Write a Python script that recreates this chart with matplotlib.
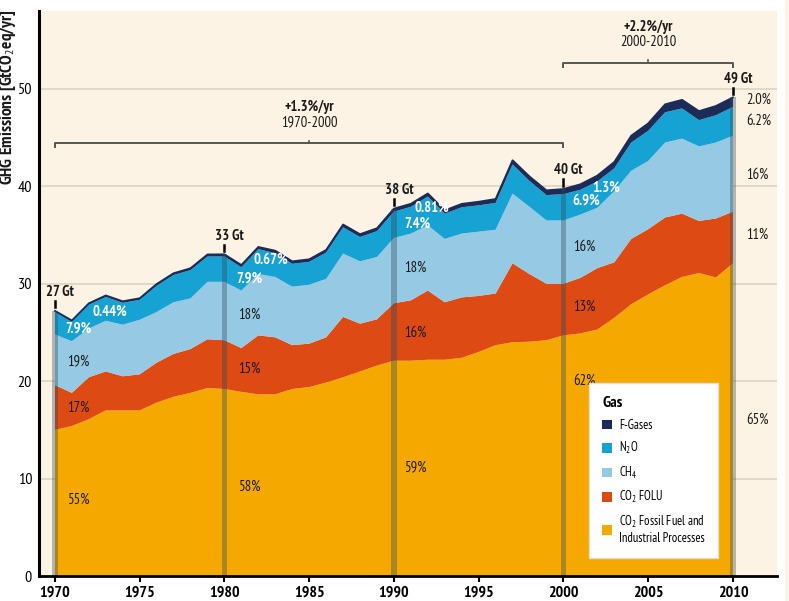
import matplotlib
matplotlib.use("Agg")
import matplotlib.pyplot as plt
from matplotlib import font_manager
from matplotlib.patches import Patch, Rectangle
import numpy as np

# ---------------- data ----------------
years = list(range(1970, 2011))
co2_ff = [15.0, 15.4, 16.1, 17.0, 17.0, 17.0, 17.8, 18.4, 18.8, 19.3,
          19.2, 18.9, 18.65, 18.65, 19.2, 19.4, 19.85, 20.4, 21.0, 21.6,
          22.1, 22.1, 22.2, 22.2, 22.4, 23.0, 23.7, 24.0, 24.05, 24.2,
          24.7, 24.9, 25.3, 26.5, 27.9, 28.9, 29.85, 30.7, 31.1, 30.65,
          32.1]
co2_folu = [4.6, 3.4, 4.3, 4.0, 3.5, 3.7, 4.1, 4.4, 4.5, 5.0,
            5.0, 4.5, 6.05, 5.85, 4.5, 4.45, 4.65, 6.2, 4.9, 4.75,
            5.9, 6.2, 7.1, 5.9, 6.2, 5.75, 5.3, 8.1, 6.95, 5.8,
            5.3, 5.7, 6.3, 5.7, 6.7, 6.7, 6.95, 6.5, 5.35, 6.05,
            5.3]
ch4 = [5.2, 5.3, 5.0, 5.2, 5.3, 5.6, 5.2, 5.3, 5.2, 5.9,
       6.0, 5.9, 6.3, 6.2, 6.0, 6.05, 6.0, 6.5, 6.4, 6.4,
       6.7, 6.85, 6.7, 6.5, 6.55, 6.6, 6.55, 7.15, 6.9, 6.5,
       6.5, 6.5, 6.2, 7.3, 7.0, 7.0, 7.7, 7.7, 7.65, 7.8,
       7.8]
n2o = [2.3, 2.0, 2.45, 2.45, 2.25, 2.05, 2.7, 2.8, 2.9, 2.6,
       2.6, 2.4, 2.55, 2.45, 2.35, 2.35, 2.7, 2.7, 2.5, 2.65,
       2.7, 2.75, 2.95, 2.6, 2.7, 2.7, 2.75, 3.0, 2.65, 2.6,
       2.7, 2.55, 2.7, 2.35, 2.9, 3.1, 3.1, 3.1, 2.7, 2.8,
       2.95]
f_gases = [0.12, 0.13, 0.14, 0.15, 0.15, 0.16, 0.17, 0.18, 0.19, 0.21,
           0.22, 0.22, 0.23, 0.24, 0.25, 0.26, 0.27, 0.28, 0.29, 0.30,
           0.31, 0.31, 0.32, 0.33, 0.35, 0.37, 0.40, 0.43, 0.46, 0.49,
           0.52, 0.56, 0.60, 0.65, 0.70, 0.76, 0.82, 0.88, 0.92, 0.95,
           0.98]

series_names = ["CO$_2$ Fossil Fuel and\nIndustrial Processes", "CO$_2$ FOLU",
                "CH$_4$", "N$_2$O", "F-Gases"]
colors = ["#F5A800", "#DD4A14", "#96C9E4", "#16A2D2", "#1C2B58"]

marker_years = [1970, 1980, 1990, 2000, 2010]
marker_totals = ["27 Gt", "33 Gt", "38 Gt", "40 Gt", "49 Gt"]
# shares (F-gas, N2O, CH4, FOLU, FF) at each marker year
shares = [["0.44%", "7.9%", "19%", "17%", "55%"],
          ["0.67%", "7.9%", "18%", "15%", "58%"],
          ["0.81%", "7.4%", "18%", "16%", "59%"],
          ["1.3%", "6.9%", "16%", "13%", "62%"],
          ["2.0%", "6.2%", "16%", "11%", "65%"]]
growth = [("+1.3%/yr", "1970-2000", 1970, 2000), ("+2.2%/yr", "2000-2010", 2000, 2010)]

# ---------------- fonts ----------------
def has_font(name):
    try:
        font_manager.findfont(font_manager.FontProperties(family=name), fallback_to_default=False)
        return True
    except Exception:
        return False

FONT = "DejaVu Sans"
for cand in ["PT Sans Narrow", "Fira Sans Condensed", "Roboto Condensed",
             "Open Sans Condensed", "Asap Condensed", "Archivo Narrow"]:
    if has_font(cand):
        FONT = cand
        break
plt.rcParams["font.family"] = [FONT, "DejaVu Sans"]
plt.rcParams["mathtext.fontset"] = "custom"
plt.rcParams["mathtext.rm"] = FONT
plt.rcParams["mathtext.it"] = FONT
plt.rcParams["mathtext.bf"] = FONT + ":bold"

# ---------------- figure ----------------
W, H = 789, 601
fig = plt.figure(figsize=(W / 100, H / 100), dpi=100, facecolor="white")
ax = fig.add_axes([39 / W, (H - 576) / H, (777 - 39) / W, (576 - 11) / H])
ax.set_facecolor("#FDF3E4")
fig.patches.append(Rectangle((785 / W, 0), 10 / W, 1, transform=fig.transFigure,
                             facecolor="#FDF3E4", edgecolor="none", zorder=0))

yrs = np.array(years)
stack = np.vstack([co2_ff, co2_folu, ch4, n2o, f_gases])
ax.stackplot(yrs, stack, colors=colors, labels=series_names, zorder=2, linewidth=0)
total = stack.sum(axis=0)
ax.plot(yrs, total, color="#1C2B58", lw=1.3, zorder=3)

ax.set_xlim(1969.06, 2012.6)
ax.set_ylim(0, 58)

# gridlines
for yv in [10, 20, 30, 40, 50]:
    ax.axhline(yv, color="#DDD3C5", lw=1.2, zorder=1)

# marker bars
idx = [years.index(y) for y in marker_years]
mt = total[idx]
ax.bar(marker_years, mt, width=0.32, color="#2A4A5A", alpha=0.36, zorder=4, linewidth=0)

for yr, tv, lab in zip(marker_years, mt, marker_totals):
    ax.plot([yr, yr], [tv + 0.35, tv + 1.0], color="black", lw=1.8, zorder=5)
    ax.text(yr + 0.3, tv + 1.2, lab, ha="center", va="bottom", fontsize=10.5,
            fontweight="bold", color="#1a1a1a", zorder=5)

# share labels
label_pos = [  # (x, y) for F, N2O, CH4, FOLU, FF
    [(1972.2, 27.15), (1970.6, 25.4), (1970.7, 22.0), (1970.7, 17.3), (1970.7, 7.85)],
    [(1981.7, 32.5), (1980.7, 30.55), (1980.8, 26.85), (1980.8, 21.3), (1980.8, 9.2)],
    [(1991.2, 37.8), (1990.6, 36.2), (1990.6, 31.6), (1990.6, 25.0), (1990.6, 11.2)],
    [(2001.7, 39.9), (2000.55, 38.5), (2000.6, 33.8), (2000.6, 27.6), (2000.6, 20.0)],
    [(2010.8, 48.9), (2010.8, 46.75), (2010.8, 41.2), (2010.8, 35.05), (2010.8, 16.0)],
]
for i, (labs, poss) in enumerate(zip(shares, label_pos)):
    for j, (lab, (px, py)) in enumerate(zip(labs, poss)):
        white = (i < 4 and j < 2)
        ax.text(px, py, lab, ha="left", va="center", fontsize=10.5,
                fontweight="bold" if white else "normal",
                color="white" if white else "#1a1a1a", zorder=6)

# growth brackets
bracket_y = [44.45, 52.7]
for (t1, t2, x0, x1), by in zip(growth, bracket_y):
    xm = (x0 + x1) / 2
    ax.plot([x0, x0, x1, x1], [by - 0.4, by, by, by - 0.4], color="#555555", lw=1.4, zorder=5)
    ax.plot([xm, xm], [by, by + 0.25], color="#555555", lw=1.2, zorder=5)
    ax.text(xm, by + 3.65, t1, ha="center", va="center", fontsize=10.5, fontweight="bold",
            color="#1a1a1a")
    ax.text(xm, by + 2.15, t2, ha="center", va="center", fontsize=10.5, color="#1a1a1a")

# axes styling
for s in ["top", "right"]:
    ax.spines[s].set_visible(False)
ax.spines["left"].set_linewidth(2.2)
ax.spines["bottom"].set_linewidth(2.0)
ax.spines["bottom"].set_zorder(7)
ax.spines["left"].set_zorder(7)
ax.set_xticks(range(1970, 2011, 5))
ax.set_yticks([0, 10, 20, 30, 40, 50])
ax.tick_params(axis="x", length=4, width=1.5, direction="out", pad=3, labelsize=11.5)
ax.tick_params(axis="y", length=0, pad=5, labelsize=11.5)
for lab in ax.get_xticklabels():
    lab.set_fontweight("bold")

fig.text(8 / W, 1 - 9 / H, "GHG Emissions [GtCO$_2$eq/yr]", rotation=90, ha="center", va="top",
         fontsize=12.5, fontweight="bold", color="#1a1a1a")

# legend
handles = [Patch(facecolor=c, edgecolor="none") for c in colors]
order = [4, 3, 2, 1, 0]
leg = ax.legend([handles[k] for k in order], [series_names[k] for k in order],
                title="Gas", loc="upper left", bbox_to_anchor=(589 / W, 1 - 383 / H),
                bbox_transform=fig.transFigure, borderaxespad=0, frameon=True, fancybox=False,
                edgecolor="#E0E0E0", facecolor="white", framealpha=1,
                fontsize=9, title_fontsize=11.5, handlelength=0.8, handleheight=0.8,
                handletextpad=0.55, labelspacing=0.68, borderpad=1.05, alignment="left")
leg.get_title().set_fontweight("bold")
leg.set_zorder(8)

fig.savefig("out.png", dpi=100, facecolor="white")
